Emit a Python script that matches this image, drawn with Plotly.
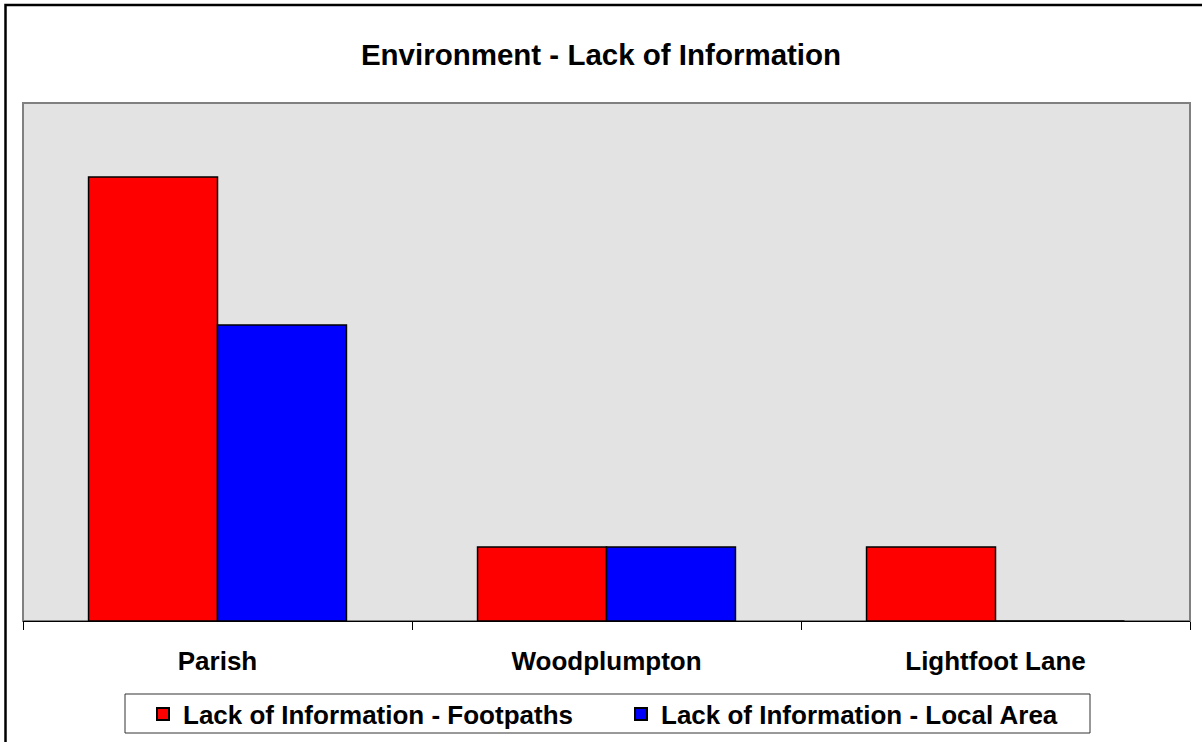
import plotly.graph_objects as go

categories = ["Parish", "Woodplumpton", "Lightfoot Lane"]
footpaths = [6, 1, 1]
local_area = [4, 1, 0]
series_names = ["Lack of Information - Footpaths", "Lack of Information - Local Area"]
title_text = "Environment - Lack of Information"

FONT = "Liberation Sans, Arial, sans-serif"

fig = go.Figure()
fig.add_trace(go.Bar(x=categories, y=footpaths, name=series_names[0],
                     marker=dict(color="#ff0000", line=dict(color="#000000", width=1.5))))
fig.add_trace(go.Bar(x=categories, y=local_area, name=series_names[1],
                     marker=dict(color="#0000ff", line=dict(color="#000000", width=1.5))))

W, H = 1202, 742
ml, mr, mt, mb = 23, 12, 103, 121
pw, ph = W - ml - mr, H - mt - mb

def px_x(px):
    return (px - ml) / pw

def px_y(py):
    return (H - mb - py) / ph

fig.update_layout(
    width=W, height=H,
    margin=dict(l=ml, r=mr, t=mt, b=mb, autoexpand=False),
    paper_bgcolor="white",
    plot_bgcolor="#e3e3e3",
    barmode="group",
    bargap=0.337,
    bargroupgap=0,
    showlegend=True,
    title=dict(text=title_text, x=0.5, xanchor="center",
               y=1 - 55 / H, yanchor="middle",
               font=dict(family=FONT, size=29.5, color="black", weight="bold")),
    font=dict(family=FONT, color="black"),
    legend=dict(orientation="h", xref="container", yref="container",
                x=143 / W, xanchor="left",
                y=1 - 714 / H, yanchor="middle",
                borderwidth=0, bgcolor="rgba(0,0,0,0)",
                font=dict(family=FONT, size=26, color="black", weight="bold"),
                entrywidth=433, entrywidthmode="pixels",
                itemsizing="constant"),
    xaxis=dict(showline=True, linecolor="black", linewidth=1,
               ticks="outside", ticklen=8, tickcolor="black",
               tickson="boundaries", showgrid=False, automargin=False,
               tickfont=dict(family=FONT, size=26, color="black", weight="bold"),
               ticklabelstandoff=17),
    yaxis=dict(range=[0, 7], showticklabels=False, showgrid=False,
               zeroline=False, showline=False, ticks="", automargin=False),
    shapes=[
        dict(type="rect", xref="paper", yref="paper", x0=0, x1=1, y0=0, y1=1,
             line=dict(color="#808080", width=2), fillcolor="rgba(0,0,0,0)", layer="below"),
        dict(type="rect", xref="paper", yref="paper",
             x0=px_x(125), x1=px_x(1090), y0=px_y(733), y1=px_y(694),
             line=dict(color="#333333", width=1), fillcolor="white", layer="below"),
        dict(type="rect", xref="paper", yref="paper",
             x0=px_x(5.5), x1=px_x(1215), y0=px_y(760), y1=px_y(5),
             line=dict(color="black", width=2.5), fillcolor="rgba(0,0,0,0)"),
    ],
)
fig.write_html("out.html", config={"displayModeBar": False},
               post_script="document.body.style.margin='0';document.body.style.overflow='hidden';")
